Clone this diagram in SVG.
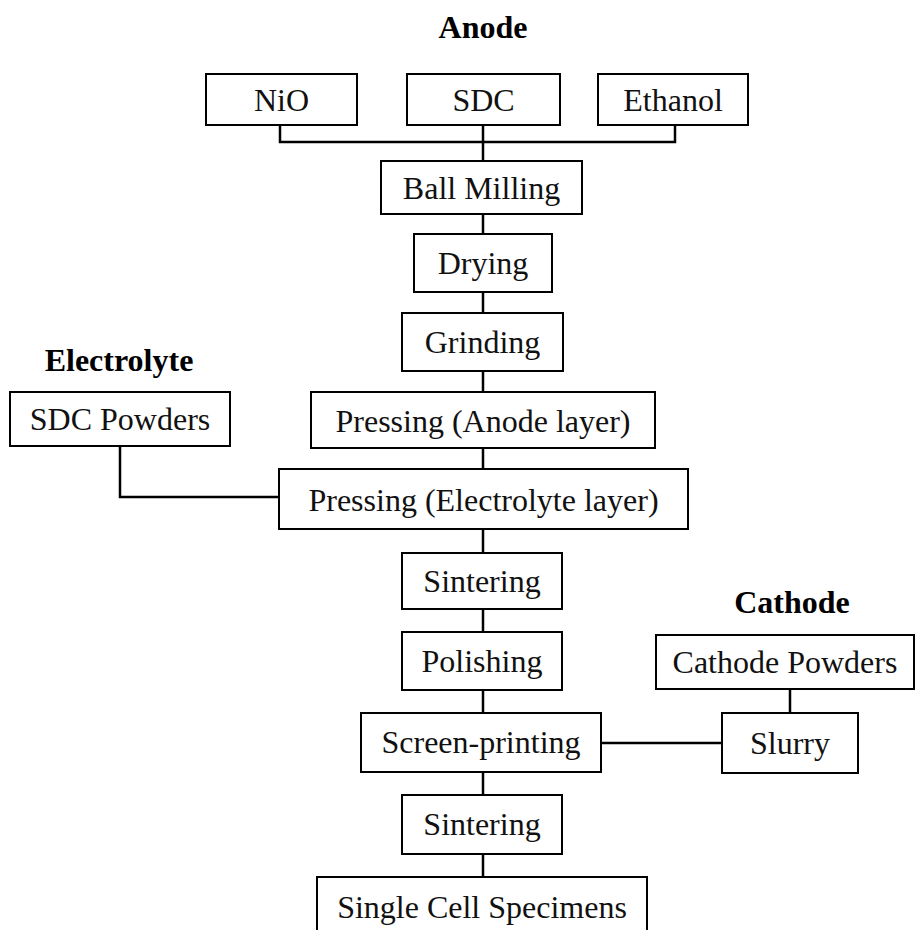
<svg xmlns="http://www.w3.org/2000/svg" width="915" height="930" viewBox="0 0 915 930">
<style>
.box{fill:#fff;stroke:#000;stroke-width:2}
.lbl{font-family:"Liberation Serif","Times New Roman",serif;font-size:32px;fill:#111;text-anchor:middle}
.ttl{font-family:"Liberation Serif","Times New Roman",serif;font-size:32px;font-weight:bold;fill:#000;text-anchor:middle}
.con{fill:none;stroke:#000;stroke-width:2.5}
</style>
<rect width="915" height="930" fill="#fff"/>
<g id="connectors">
<path class="con" d="M280,125V142H675V125M483,125V161"/>
<path class="con" d="M483,214V234M483,292V313M483,371V392M483,448V469M483,529V553M483,609V632M483,690V713M483,772V795M483,854V877"/>
<path class="con" d="M120,446V497H279"/>
<path class="con" d="M601,743H722"/>
<path class="con" d="M790,689V713"/>
</g>
<text class="ttl" x="483" y="38">Anode</text>
<text class="ttl" x="119" y="371">Electrolyte</text>
<text class="ttl" x="792" y="613">Cathode</text>
<g id="nio"><rect class="box" x="206" y="74" width="151" height="51"/><text class="lbl" x="281.5" y="111">NiO</text></g>
<g id="sdc"><rect class="box" x="407" y="74" width="153" height="51"/><text class="lbl" x="483.5" y="111">SDC</text></g>
<g id="ethanol"><rect class="box" x="598" y="74" width="150" height="51"/><text class="lbl" x="673" y="111">Ethanol</text></g>
<g id="ballmilling"><rect class="box" x="381" y="161" width="201" height="53"/><text class="lbl" x="481.5" y="199">Ball Milling</text></g>
<g id="drying"><rect class="box" x="414" y="234" width="138" height="58"/><text class="lbl" x="483" y="274">Drying</text></g>
<g id="grinding"><rect class="box" x="402" y="313" width="161" height="58"/><text class="lbl" x="482.5" y="353">Grinding</text></g>
<g id="sdcpowders"><rect class="box" x="10" y="392" width="220" height="54"/><text class="lbl" x="120" y="430">SDC Powders</text></g>
<g id="pressanode"><rect class="box" x="311" y="392" width="344" height="56"/><text class="lbl" x="483" y="432">Pressing (Anode layer)</text></g>
<g id="presselectrolyte"><rect class="box" x="279" y="469" width="409" height="60"/><text class="lbl" x="483.5" y="511">Pressing (Electrolyte layer)</text></g>
<g id="sintering1"><rect class="box" x="402" y="553" width="160" height="56"/><text class="lbl" x="482" y="592">Sintering</text></g>
<g id="polishing"><rect class="box" x="402" y="632" width="160" height="58"/><text class="lbl" x="482" y="672">Polishing</text></g>
<g id="cathodepowders"><rect class="box" x="656" y="635" width="258" height="54"/><text class="lbl" x="785" y="673">Cathode Powders</text></g>
<g id="screenprinting"><rect class="box" x="361" y="713" width="240" height="59"/><text class="lbl" x="481" y="753">Screen-printing</text></g>
<g id="slurry"><rect class="box" x="722" y="713" width="136" height="60"/><text class="lbl" x="790" y="754">Slurry</text></g>
<g id="sintering2"><rect class="box" x="402" y="795" width="160" height="59"/><text class="lbl" x="482" y="835">Sintering</text></g>
<g id="singlecell"><rect class="box" x="317" y="877" width="330" height="60"/><text class="lbl" x="482" y="918">Single Cell Specimens</text></g>
</svg>
